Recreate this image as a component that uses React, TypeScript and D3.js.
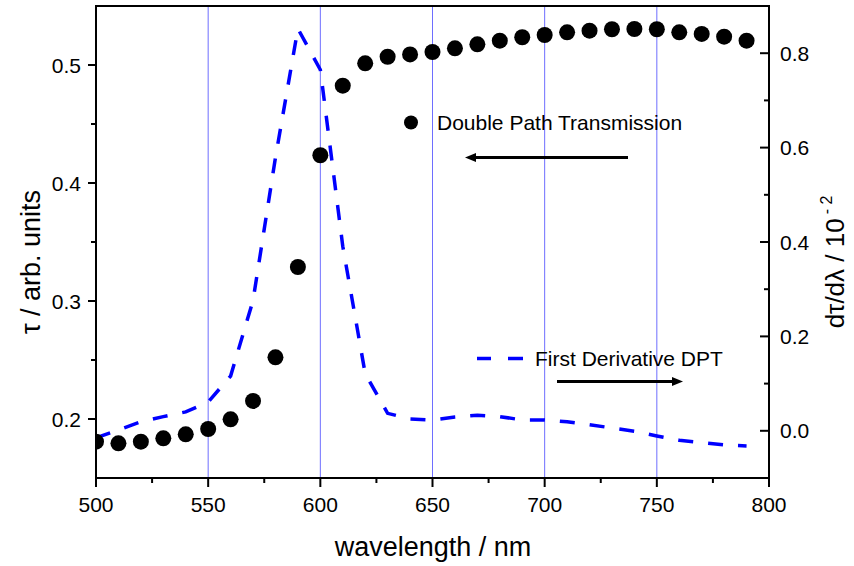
import React from "react";
import * as d3 from "d3";

const wavelengths = [500,510,520,530,540,550,560,570,580,590,600,610,620,630,640,650,660,670,680,690,700,710,720,730,740,750,760,770,780,790];
const dptValues = [0.1808,0.1794,0.1808,0.1836,0.187,0.1915,0.1997,0.2153,0.2523,0.3288,0.4235,0.4825,0.5014,0.507,0.509,0.511,0.5141,0.5175,0.5206,0.5235,0.5254,0.5277,0.5291,0.5303,0.5305,0.5303,0.5277,0.5263,0.524,0.5206];
const derivValues = [-0.015,0.002,0.019,0.030,0.040,0.061,0.116,0.276,0.579,0.852,0.765,0.391,0.121,0.037,0.025,0.023,0.029,0.033,0.030,0.023,0.023,0.019,0.013,0.006,-0.001,-0.011,-0.020,-0.025,-0.030,-0.032];

const xMajor = [500,550,600,650,700,750,800];
const xMinor = [525,575,625,675,725,775];
const gridLines = [550,600,650,700,750];
const yLeftMajor = [0.2,0.3,0.4,0.5];
const yLeftMinor = [0.25,0.35,0.45];
const yRightMajor = [0.0,0.2,0.4,0.6,0.8];
const yRightMinor = [0.1,0.3,0.5,0.7];

const W = 854, H = 566;
const L = 96, R = 769, T = 6, B = 478;
const FONT = "'Liberation Sans', Arial, Helvetica, sans-serif";

export default function App() {
  const x = d3.scaleLinear().domain([500, 800]).range([L, R]);
  const yL = d3.scaleLinear().domain([0.15, 0.55]).range([B, T]);
  const yR = d3.scaleLinear().domain([-0.1, 0.9]).range([B, T]);

  const line = d3.line<number>()
    .x((_, i) => x(wavelengths[i]))
    .y((d) => yR(d));

  return (
    <svg width={W} height={H} style={{ position: "absolute", left: 0, top: 0, background: "#fff" }} fontFamily={FONT}>
      <defs>
        <clipPath id="plot">
          <rect x={L} y={T} width={R - L} height={B - T} />
        </clipPath>
      </defs>
      <rect x={0} y={0} width={W} height={H} fill="#fff" />
      {gridLines.map((g) => (
        <line key={g} x1={x(g)} x2={x(g)} y1={T} y2={B} stroke="#6e6eff" strokeWidth={1} />
      ))}
      <g clipPath="url(#plot)">
        <path d={line(derivValues) || ""} fill="none" stroke="#0000ff" strokeWidth={3.5} strokeDasharray="15,15" />
        {wavelengths.map((w, i) => (
          <circle key={w} cx={x(w)} cy={yL(dptValues[i])} r={8} fill="#000" />
        ))}
      </g>
      {/* frame */}
      <rect x={L} y={T} width={R - L} height={B - T} fill="none" stroke="#000" strokeWidth={2} />
      {/* bottom axis */}
      {xMajor.map((t) => (
        <g key={t}>
          <line x1={x(t)} x2={x(t)} y1={B} y2={B + 9} stroke="#000" strokeWidth={2} />
          <text x={x(t)} y={512} fontSize={21} textAnchor="middle" fill="#000">{t}</text>
        </g>
      ))}
      {xMinor.map((t) => (
        <line key={t} x1={x(t)} x2={x(t)} y1={B} y2={B + 5} stroke="#000" strokeWidth={2} />
      ))}
      {/* left axis */}
      {yLeftMajor.map((t) => (
        <g key={t}>
          <line x1={L - 8} x2={L} y1={yL(t)} y2={yL(t)} stroke="#000" strokeWidth={2} />
          <text x={81} y={yL(t)} dy="0.36em" fontSize={21} textAnchor="end" fill="#000">{t.toFixed(1)}</text>
        </g>
      ))}
      {yLeftMinor.map((t) => (
        <line key={t} x1={L - 5} x2={L} y1={yL(t)} y2={yL(t)} stroke="#000" strokeWidth={2} />
      ))}
      {/* right axis */}
      {yRightMajor.map((t) => (
        <g key={t}>
          <line x1={R - 9} x2={R} y1={yR(t)} y2={yR(t)} stroke="#000" strokeWidth={2} />
          <text x={780} y={yR(t)} dy="0.36em" fontSize={21} textAnchor="start" fill="#000">{t.toFixed(1)}</text>
        </g>
      ))}
      {yRightMinor.map((t) => (
        <line key={t} x1={R - 5} x2={R} y1={yR(t)} y2={yR(t)} stroke="#000" strokeWidth={2} />
      ))}
      {/* axis titles */}
      <text x={433} y={556} fontSize={27} textAnchor="middle" fill="#000">wavelength / nm</text>
      <text transform="translate(40,262) rotate(-90)" fontSize={27} textAnchor="middle" fill="#000">τ / arb. units</text>
      <text transform="translate(844,262) rotate(-90)" fontSize={26} textAnchor="middle" fill="#000">
        dτ/dλ / 10<tspan fontSize={16} dy={-12} dx={4}>- 2</tspan>
      </text>
      {/* legend 1 */}
      <circle cx={411} cy={122.5} r={7} fill="#000" />
      <text x={437} y={129.5} fontSize={21} fill="#000">Double Path Transmission</text>
      <line x1={628} x2={474} y1={157.5} y2={157.5} stroke="#000" strokeWidth={3} />
      <path d="M465,157.5 L476,153 L476,162 Z" fill="#000" />
      {/* legend 2 */}
      <line x1={477} x2={491} y1={358.5} y2={358.5} stroke="#0000ff" strokeWidth={3.5} />
      <line x1={508} x2={523} y1={358.5} y2={358.5} stroke="#0000ff" strokeWidth={3.5} />
      <text x={535} y={366} fontSize={21} fill="#000">First Derivative DPT</text>
      <line x1={557} x2={673} y1={381.5} y2={381.5} stroke="#000" strokeWidth={3} />
      <path d="M683,381.5 L672,377 L672,386 Z" fill="#000" />
    </svg>
  );
}
